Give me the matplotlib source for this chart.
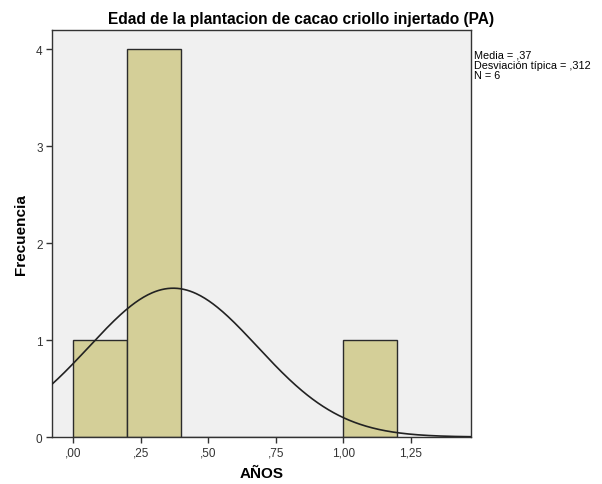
import matplotlib.pyplot as plt
import numpy as np

plt.rcParams['font.family'] = ['Liberation Sans', 'DejaVu Sans']

# Histogram data (bin edges and counts)
bin_edges = [0.0, 0.2, 0.4, 0.6, 0.8, 1.0, 1.2]
counts = [1, 4, 0, 0, 0, 1]
media = 0.37
desv = 0.312
n = 6

x_ticks = [0.0, 0.25, 0.5, 0.75, 1.0, 1.25]
x_labels = [',00', ',25', ',50', ',75', '1,00', '1,25']
y_ticks = [0, 1, 2, 3, 4]

fig = plt.figure(figsize=(6.02, 4.85), dpi=100)
ax = fig.add_axes([0.0869, 0.0969, 0.6955, 0.8398])
ax.set_facecolor('#f0f0f0')

widths = np.diff(bin_edges)
ax.bar(bin_edges[:-1], counts, width=widths, align='edge',
       color='#d4cf98', edgecolor='#2b2b2b', linewidth=1.0, zorder=2)

# Normal curve scaled to counts
xs = np.linspace(-0.08, 1.48, 400)
bw = 0.2
ys = n * bw / (desv * np.sqrt(2 * np.pi)) * np.exp(-0.5 * ((xs - media) / desv) ** 2)
ax.plot(xs, ys, color='#222222', linewidth=1.2, zorder=3)

ax.set_xlim(-0.078, 1.473)
ax.set_ylim(0, 4.2)
ax.set_xticks(x_ticks)
ax.set_xticklabels(x_labels)
ax.set_yticks(y_ticks)
ax.tick_params(axis='both', labelsize=8.5, colors='#333333', length=4, width=1, pad=3)
for s in ax.spines.values():
    s.set_color('#333333')
    s.set_linewidth(1.0)

ax.set_xlabel('AÑOS', fontsize=11, fontweight='bold', labelpad=5)
ax.set_ylabel('Frecuencia', fontsize=11, fontweight='bold', labelpad=6)
fig.text(0.5, 1 - 27 / 485, 'Edad de la plantacion de cacao criollo injertado (PA)',
         ha='center', va='bottom', fontsize=11.2, fontweight='bold')

fig.text(474 / 602, 1 - 51 / 485,
         'Media = ,37\nDesviación típica = ,312\nN = 6',
         ha='left', va='top', fontsize=7.8, linespacing=1.0)

fig.savefig('out.png', dpi=100)
